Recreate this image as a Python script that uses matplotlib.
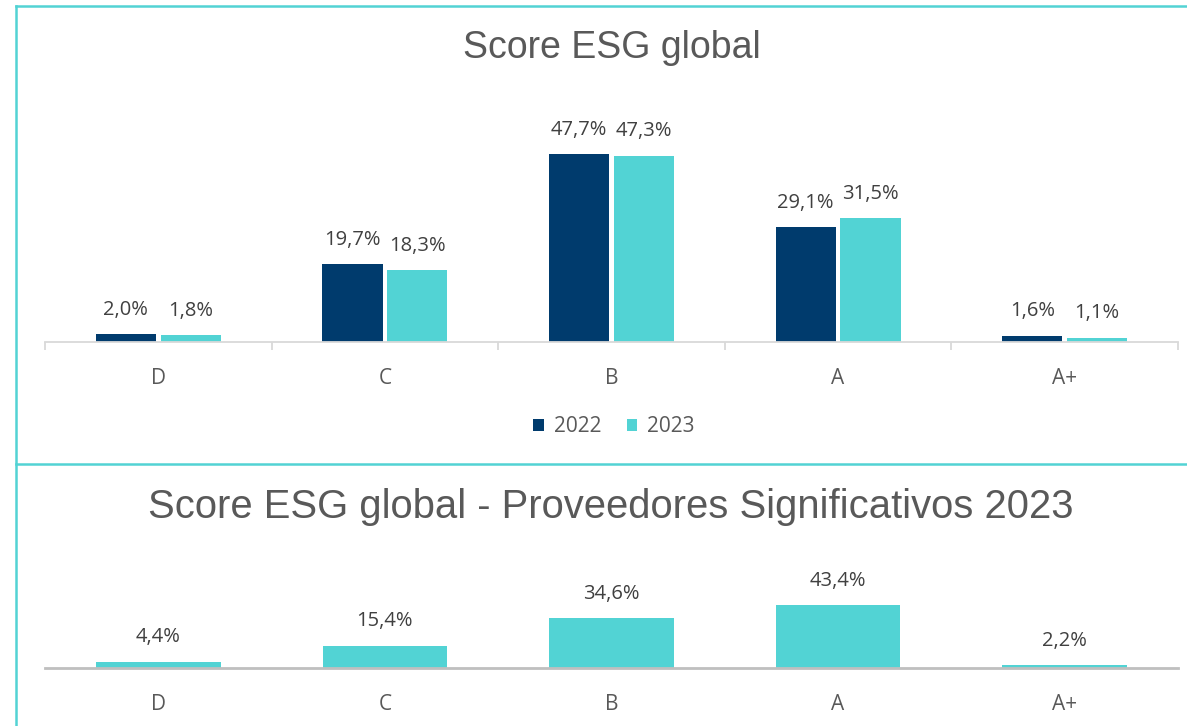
import matplotlib
matplotlib.use("Agg")
import matplotlib.pyplot as plt
from matplotlib.lines import Line2D
import numpy as np

categories = ["D", "C", "B", "A", "A+"]
series_names = ["2022", "2023"]
values_2022 = [2.0, 19.7, 47.7, 29.1, 1.6]
values_2023 = [1.8, 18.3, 47.3, 31.5, 1.1]
values_prov = [4.4, 15.4, 34.6, 43.4, 2.2]
title_top = "Score ESG global"
title_bottom = "Score ESG global - Proveedores Significativos 2023"

NAVY = "#003b6d"
TEAL = "#52d3d4"
TXT = "#404040"
TICK = "#595959"

W, H = 1187, 726
fig = plt.figure(figsize=(W / 100, H / 100), dpi=100)
fig.patch.set_facecolor("white")

def fx(px):
    return px / W

def fy(py):
    return 1 - py / H

# Borders
fig.add_artist(Line2D([fx(16), fx(16)], [fy(6), fy(726)], color=TEAL, lw=1.8, transform=fig.transFigure))
fig.add_artist(Line2D([fx(16), 1], [fy(6), fy(6)], color=TEAL, lw=1.8, transform=fig.transFigure))
fig.add_artist(Line2D([fx(16), 1], [fy(464), fy(464)], color=TEAL, lw=1.8, transform=fig.transFigure))

def fmt(v):
    return f"{v:.1f}%".replace(".", ",")

label_font = ["Open Sans", "DejaVu Sans"]
LBL = 14.5
TK = 15

# ---------- Top chart ----------
ax_left, ax_right = 45, 1178
top_y0, top_y1 = 342, 100
scale_top = 3.94  # px per %
ax1 = fig.add_axes([fx(ax_left), fy(top_y0), (ax_right - ax_left) / W, (top_y0 - top_y1) / H])
x = np.arange(len(categories))
bw = 0.265
off = 0.143
b1 = ax1.bar(x - off, values_2022, bw, color=NAVY, label=series_names[0])
b2 = ax1.bar(x + off, values_2023, bw, color=TEAL, label=series_names[1])
ax1.set_ylim(0, (top_y0 - top_y1) / scale_top)
ax1.set_xlim(-0.5, len(categories) - 0.5)
for bars, vals in ((b1, values_2022), (b2, values_2023)):
    for rect, v in zip(bars, vals):
        ax1.annotate(fmt(v), (rect.get_x() + rect.get_width() / 2, v),
                     xytext=(0, 17.5), textcoords="offset points",
                     ha="center", va="center", fontsize=LBL, color=TXT, family=label_font)
for s in ("top", "right", "left"):
    ax1.spines[s].set_visible(False)
ax1.spines["bottom"].set_color("#d9d9d9")
ax1.spines["bottom"].set_linewidth(1.3)
ax1.set_yticks([])
ax1.set_xticks(x)
ax1.set_xticklabels(categories, fontsize=TK, color=TICK, family=label_font)
ax1.tick_params(axis="x", which="major", length=0, pad=18.5)
ax1.set_xticks(np.arange(-0.5, len(categories)), minor=True)
ax1.tick_params(axis="x", which="minor", length=6, width=1.3, color="#d9d9d9")
ax1.patch.set_alpha(0)

leg = fig.legend(handles=[b1, b2], labels=series_names, loc="center",
                 bbox_to_anchor=(fx(614), fy(427)), ncol=2, frameon=False,
                 handlelength=0.5, handleheight=0.5, handletextpad=0.5, columnspacing=1.2,
                 prop={"family": label_font, "size": TK})
for t in leg.get_texts():
    t.set_color(TICK)

fig.text(fx(612), fy(48), title_top, ha="center", va="center", fontsize=27,
         color="#595959", family=["Liberation Sans", "DejaVu Sans"])

# ---------- Bottom chart ----------
bot_y0, bot_y1 = 668, 560
scale_bot = 1.45
ax2 = fig.add_axes([fx(ax_left), fy(bot_y0), (ax_right - ax_left) / W, (bot_y0 - bot_y1) / H])
b3 = ax2.bar(x, values_prov, 0.55, color=TEAL)
ax2.set_ylim(0, (bot_y0 - bot_y1) / scale_bot)
ax2.set_xlim(-0.5, len(categories) - 0.5)
for rect, v in zip(b3, values_prov):
    ax2.annotate(fmt(v), (rect.get_x() + rect.get_width() / 2, v),
                 xytext=(0, 17.5), textcoords="offset points",
                 ha="center", va="center", fontsize=LBL, color=TXT, family=label_font)
for s in ("top", "right", "left"):
    ax2.spines[s].set_visible(False)
ax2.spines["bottom"].set_color("#bfbfbf")
ax2.spines["bottom"].set_linewidth(2)
ax2.set_yticks([])
ax2.set_xticks(x)
ax2.set_xticklabels(categories, fontsize=TK, color=TICK, family=label_font)
ax2.tick_params(axis="x", length=0, pad=18.5)
ax2.patch.set_alpha(0)

t2 = fig.text(fx(611), fy(507), title_bottom, ha="center", va="center", fontsize=28.8,
              color="#595959", family=["Liberation Sans", "DejaVu Sans"])

fig.savefig("out.png", dpi=100, facecolor="white")
